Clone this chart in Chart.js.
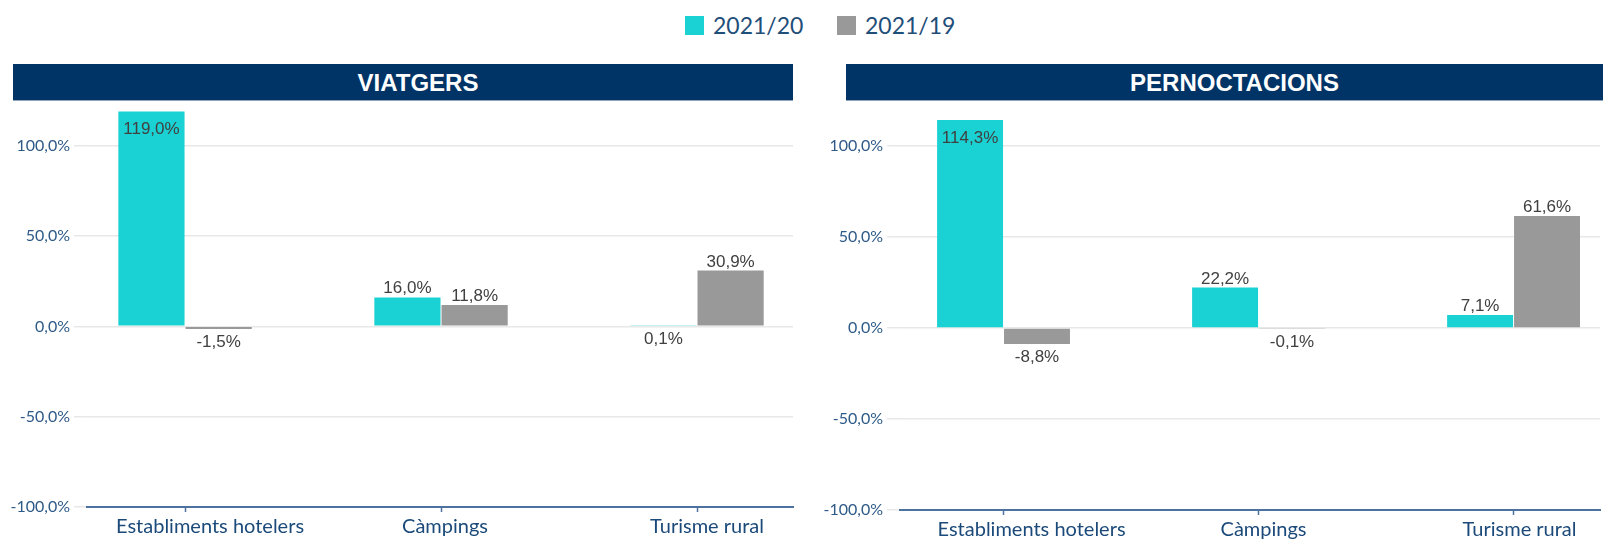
<!DOCTYPE html>
<html>
<head>
<meta charset="utf-8">
<script src="https://cdn.jsdelivr.net/npm/chart.js@4/dist/chart.umd.min.js"></script>
<style>
  html, body { margin:0; padding:0; background:#fff; width:1609px; height:540px; overflow:hidden; }
  .abs { position:absolute; }
  .legend-item { position:absolute; top:12px; font-family:Lato, sans-serif; font-size:23px; color:#1f4e79; line-height:26px; display:flex; align-items:center; }
  .legend-item span.sw { display:inline-block; width:19px; height:19px; margin-right:9px; }
  .titlebar { position:absolute; top:64px; height:37px; background:#003366; border-bottom:1px solid #8fa3b8; color:#fff; font-family:"Liberation Sans", Arial, sans-serif; font-weight:bold; font-size:24px; line-height:37px; text-align:center; box-sizing:border-box; }
</style>
</head>
<body>
<div id="legend"></div>
<div class="titlebar" id="t1" style="left:13px; width:780px; padding-left:30px;"></div>
<div class="titlebar" id="t2" style="left:846px; width:757px; padding-left:20px;"></div>
<canvas id="c1" class="abs" style="left:0px; top:101px;" width="800" height="439"></canvas>
<canvas id="c2" class="abs" style="left:804px; top:101px;" width="805" height="439"></canvas>
<script>
// ---- data ----
const categories = ['Establiments hotelers', 'Càmpings', 'Turisme rural'];
const seriesNames = ['2021/20', '2021/19'];
const panelTitles = ['VIATGERS', 'PERNOCTACIONS'];
const viatgers2021_20 = [119.0, 16.0, 0.1];
const viatgers2021_19 = [-1.5, 11.8, 30.9];
const pernoctacions2021_20 = [114.3, 22.2, 7.1];
const pernoctacions2021_19 = [-8.8, -0.1, 61.6];
const yTickValues = [-100, -50, 0, 50, 100];

const colors = ['#1ad1d3', '#999999'];

// legend
const legend = document.getElementById('legend');
const legendX = [685, 837];
seriesNames.forEach((n, i) => {
  const d = document.createElement('div');
  d.className = 'legend-item';
  d.style.left = legendX[i] + 'px';
  d.innerHTML = '<span class="sw" style="background:' + colors[i] + '"></span>' + n;
  legend.appendChild(d);
});
document.getElementById('t1').textContent = panelTitles[0];
document.getElementById('t2').textContent = panelTitles[1];

const fmt = v => v.toFixed(1).replace('.', ',') + '%';

const labelPlugin = {
  id: 'valueLabels',
  afterDatasetsDraw(chart) {
    const ctx = chart.ctx;
    const area = chart.chartArea;
    ctx.save();
    ctx.font = '17px "Liberation Sans", Arial, sans-serif';
    ctx.fillStyle = '#404040';
    ctx.textAlign = 'center';
    chart.data.datasets.forEach((ds, di) => {
      const meta = chart.getDatasetMeta(di);
      meta.data.forEach((bar, i) => {
        const v = ds.data[i].y;
        const txt = fmt(v);
        if (v >= 0.5) {
          if (bar.y - 4 - 14 < area.top) {
            ctx.textBaseline = 'alphabetic';
            ctx.fillText(txt, bar.x, bar.y + 23);
          } else {
            ctx.textBaseline = 'alphabetic';
            ctx.fillText(txt, bar.x, bar.y - 4);
          }
        } else {
          const bottom = Math.max(bar.y, bar.base);
          ctx.textBaseline = 'alphabetic';
          ctx.fillText(txt, bar.x, bottom + 18);
        }
      });
    });
    ctx.restore();
  }
};

// draws category names under the x axis, positioned from the scale
const catLabelPlugin = {
  id: 'catLabels',
  afterDraw(chart, args, opts) {
    const s = chart.scales.x;
    const ctx = chart.ctx;
    ctx.save();
    ctx.font = '20px Lato, sans-serif';
    ctx.fillStyle = '#1b4a7a';
    ctx.textAlign = 'center';
    ctx.textBaseline = 'alphabetic';
    categories.forEach((c, i) => {
      const x = s.getPixelForValue(i) + (opts.nudge ? opts.nudge[i] : 0);
      ctx.fillText(c, x, s.top + 26);
    });
    ctx.restore();
  }
};

function makeChart(id, a, b, opts) {
  const mk = arr => arr.map((v, i) => ({ x: i, y: v }));
  return new Chart(document.getElementById(id), {
    type: 'bar',
    data: {
      datasets: [
        { label: seriesNames[0], data: mk(a), backgroundColor: colors[0], categoryPercentage: 0.525, barPercentage: 0.985, minBarLength: 1 },
        { label: seriesNames[1], data: mk(b), backgroundColor: colors[1], categoryPercentage: 0.525, barPercentage: 0.985, minBarLength: 1 }
      ]
    },
    options: {
      responsive: false,
      animation: false,
      layout: { padding: { top: 5, right: opts.padRight, left: 0, bottom: 0 } },
      plugins: { legend: { display: false }, tooltip: { enabled: false }, catLabels: { nudge: opts.nudge } },
      scales: {
        x: {
          type: 'linear',
          min: opts.xMin, max: opts.xMax,
          offset: false,
          afterBuildTicks: s => { s.ticks = categories.map((c, i) => ({ value: i })); },
          afterFit: s => { s.height = opts.xHeight; s.paddingLeft = 0; s.paddingRight = 0; },
          ticks: { display: false },
          grid: { display: true, offset: false, drawOnChartArea: false, drawTicks: true, tickLength: 5, color: '#4d72a0', tickWidth: 1.5 },
          border: { display: true, color: '#4d72a0', width: 2 }
        },
        y: {
          min: -100, max: 122,
          afterBuildTicks: s => { s.ticks = yTickValues.map(v => ({ value: v })); },
          afterFit: s => { s.width = opts.yWidth; s.paddingTop = 0; s.paddingBottom = 0; },
          ticks: {
            callback: v => fmt(v),
            color: '#2e5a88',
            font: { family: 'Lato', size: 16 },
            padding: 4
          },
          grid: { color: '#e8e8e8', lineWidth: 1.5, drawTicks: true, tickLength: 13 },
          border: { display: false }
        }
      }
    },
    plugins: [labelPlugin, catLabelPlugin]
  });
}

makeChart('c1', viatgers2021_20, viatgers2021_19, { xMin: -0.383, xMax: 2.375, yWidth: 87, xHeight: 33, padRight: 7, nudge: [25, 4, 10] });
makeChart('c2', pernoctacions2021_20, pernoctacions2021_19, { xMin: -0.406, xMax: 2.339, yWidth: 96, xHeight: 30, padRight: 9, nudge: [28, 5, 6] });
</script>
</body>
</html>
